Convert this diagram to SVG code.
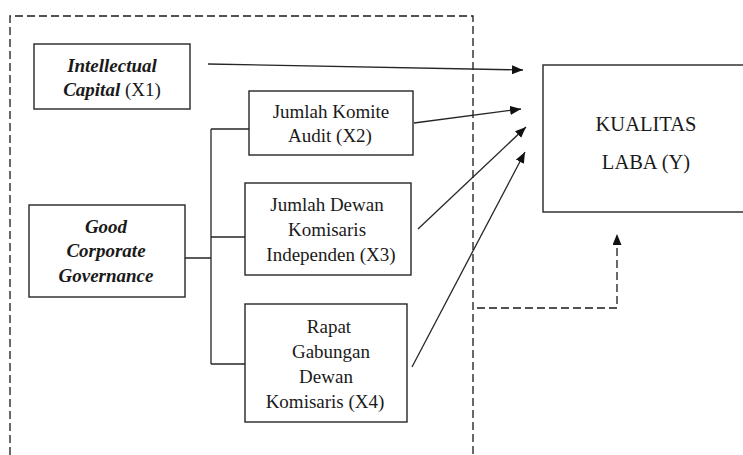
<svg xmlns="http://www.w3.org/2000/svg" width="743" height="455" viewBox="0 0 743 455">
<style>
.box{fill:#fff;stroke:#262626;stroke-width:1.4}
text{font-family:"Liberation Serif","Times New Roman",serif;font-size:19px;fill:#1a1a1a;text-anchor:middle}
.bi{font-weight:bold;font-style:italic}
.big{font-size:20.5px}
.ln{fill:none;stroke:#262626;stroke-width:1.3}
.dash{fill:none;stroke:#1a1a1a;stroke-width:1.3;stroke-dasharray:8 4}
</style>
<defs>
<marker id="ah" markerUnits="userSpaceOnUse" markerWidth="12" markerHeight="10" refX="11" refY="4.5" orient="auto">
<path d="M0,0 L11,4.5 L0,9 z" fill="#111"/>
</marker>
</defs>
<g id="boundary">
<path class="dash" d="M10,455 V16 H473 V455"/>
</g>
<g id="connectors">
<path class="ln" d="M185,258 H211 M211,129 V364 M211,129 H249 M211,237 H245 M211,364 H245"/>
<path class="ln" d="M208,64 L523,70" marker-end="url(#ah)"/>
<path class="ln" d="M414,123 L521,109" marker-end="url(#ah)"/>
<path class="ln" d="M418,229 L526,127" marker-end="url(#ah)"/>
<path class="ln" d="M412,367 L525,152" marker-end="url(#ah)"/>
<path class="dash" d="M477,308 H617 V234" marker-end="url(#ah)"/>
</g>
<g id="x1">
<rect class="box" x="34" y="44" width="156" height="65"/>
<text class="bi" x="112" y="72">Intellectual</text>
<text x="112" y="96"><tspan class="bi">Capital</tspan> (X1)</text>
</g>
<g id="x2">
<rect class="box" x="249" y="91" width="164" height="64"/>
<text x="331" y="118">Jumlah Komite</text>
<text x="330" y="142">Audit (X2)</text>
</g>
<g id="gcg">
<rect class="box" x="29" y="205" width="156" height="92"/>
<text class="bi" x="106" y="233">Good</text>
<text class="bi" x="106" y="257">Corporate</text>
<text class="bi" x="106" y="282">Governance</text>
</g>
<g id="x3">
<rect class="box" x="245" y="183" width="166" height="92"/>
<text x="327" y="211">Jumlah Dewan</text>
<text x="327" y="236">Komisaris</text>
<text x="331" y="261">Independen (X3)</text>
</g>
<g id="x4">
<rect class="box" x="245" y="304" width="162" height="118"/>
<text x="329" y="333">Rapat</text>
<text x="331" y="358">Gabungan</text>
<text x="326" y="383">Dewan</text>
<text x="325" y="408">Komisaris (X4)</text>
</g>
<g id="y">
<rect class="box" x="543" y="65" width="210" height="147"/>
<text class="big" x="646" y="131">KUALITAS</text>
<text class="big" x="646" y="169">LABA (Y)</text>
</g>
</svg>
